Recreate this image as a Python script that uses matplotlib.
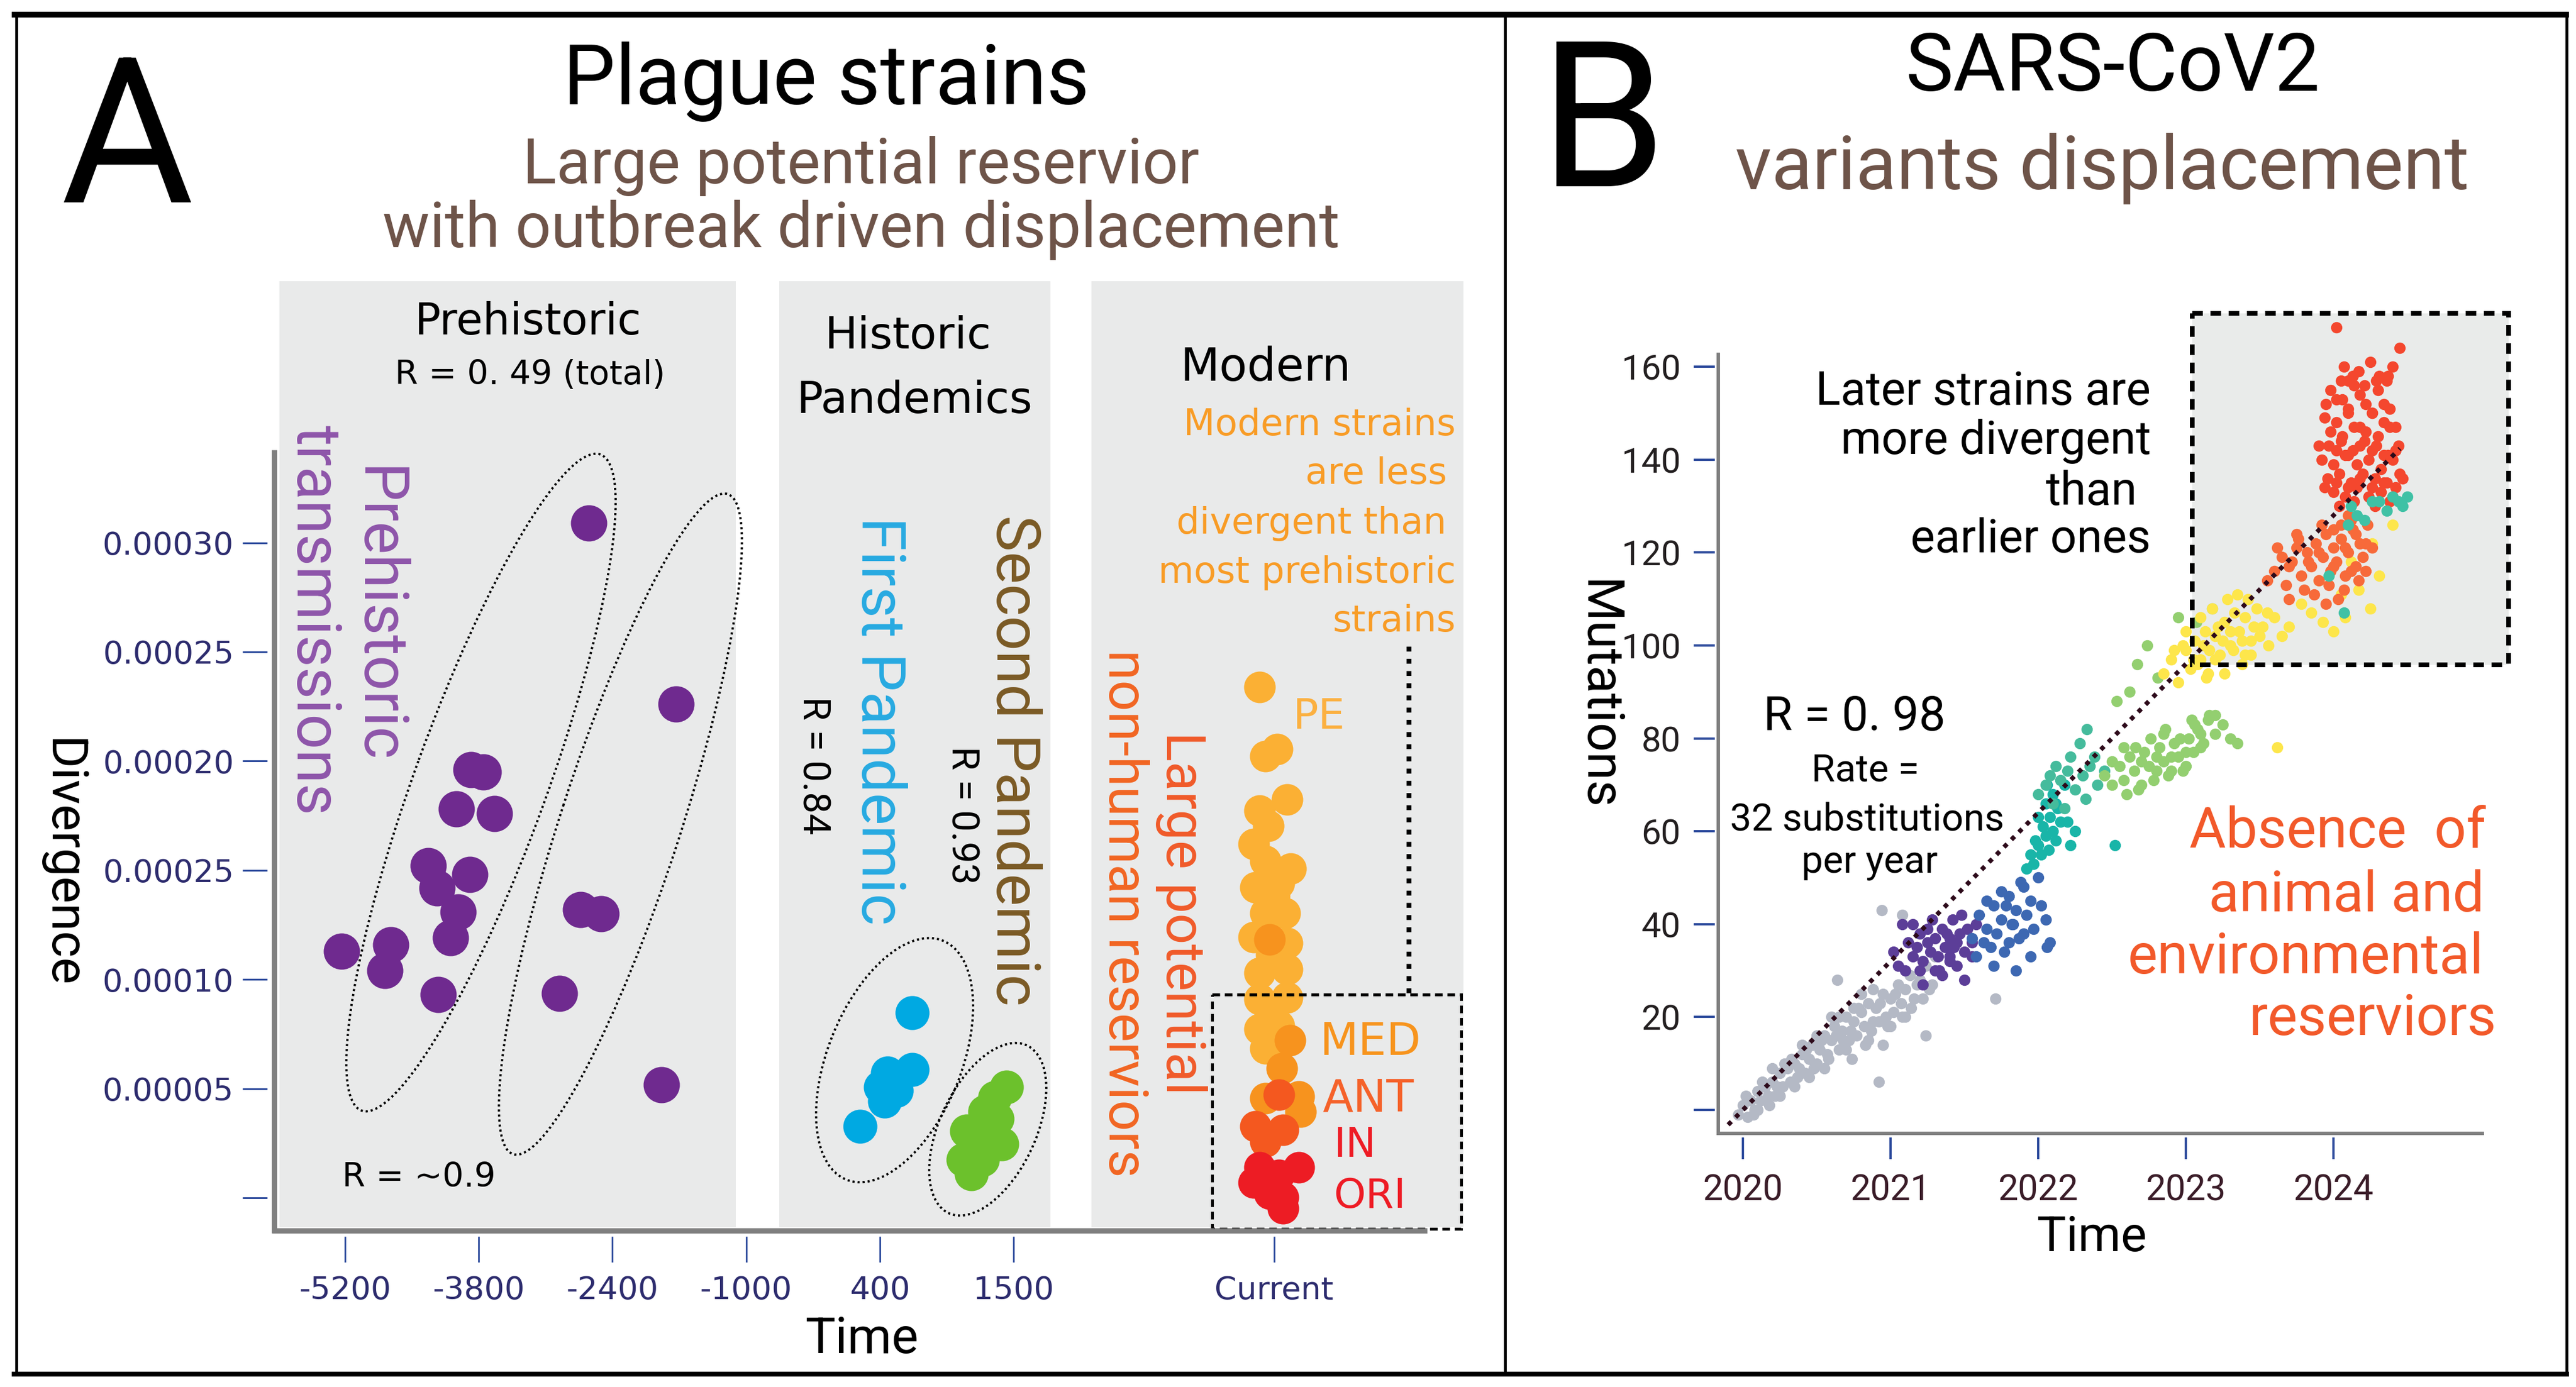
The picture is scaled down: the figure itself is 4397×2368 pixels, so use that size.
import numpy as np
import matplotlib
matplotlib.use('Agg')
import matplotlib.pyplot as plt
from matplotlib.patches import Rectangle, Ellipse
from matplotlib import font_manager

plt.rcParams['font.family'] = 'DejaVu Sans'
plt.rcParams['lines.scale_dashes'] = False

W, H = 4397, 2368
names = {f.name for f in font_manager.fontManager.ttflist}
NARROW = 'Roboto' if 'Roboto' in names else 'Liberation Sans'
WIDE = 'DejaVu Sans'
BROWN = '#6e5449'

# ---------------- panel A : plague strains ----------------
time_ticks = [-5200, -3800, -2400, -1000, 400, 1500, 2020]
time_labels = ['-5200', '-3800', '-2400', '-1000', '400', '1500', 'Current']
div_ticks = [0, 0.00005, 0.00010, 0.00015, 0.00020, 0.00025, 0.00030]
div_labels = ['', '0.00005', '0.00010', '0.00025', '0.00020', '0.00025', '0.00030']

prehistoric_year = [-2648, -1734, -3881, -3752, -4034, -3636, -4329, -3893, -4237, -4016,
                    -2734, -2519, -4721, -4096, -5237, -4783, -2955, -4225, -1887]
prehistoric_div = [0.000309, 0.000226, 0.000196, 0.000195, 0.000178, 0.000176, 0.000152,
                   0.000148, 0.000142, 0.000131, 0.000132, 0.000130, 0.000116, 0.000119,
                   0.000113, 0.000104, 0.0000936, 0.0000931, 0.0000518]

first_year = [666, 666, 464, 405, 536, 440, 193]
first_div = [0.0000848, 0.0000587, 0.0000571, 0.0000507, 0.0000491, 0.0000443, 0.0000327]

second_year = [1442, 1346, 1264, 1365, 1283, 1403, 1114, 1187, 1085, 1245, 1152]
second_div = [0.0000507, 0.0000459, 0.0000394, 0.0000362, 0.0000311, 0.0000247,
              0.0000306, 0.0000231, 0.0000174, 0.0000174, 0.0000110]

pe_year = [1991, 2002, 2026, 1991, 2046, 1979, 2002, 2053, 1983, 2029, 2002, 2041, 2046,
           1991, 2046, 1991, 2046, 1991, 2029, 2008, 2020, 2014, 2014, 2002, 1979]
pe_div = [23.39e-5, 20.23e-5, 20.55e-5, 17.73e-5, 18.24e-5, 16.20e-5, 15.42e-5, 15.08e-5,
          14.22e-5, 14.40e-5, 13.04e-5, 13.04e-5, 11.67e-5, 10.30e-5, 10.46e-5, 9.09e-5,
          9.17e-5, 7.73e-5, 7.89e-5, 17.03e-5, 13.81e-5, 11.13e-5, 8.45e-5, 6.84e-5, 11.94e-5]
med_year = [2011, 2052, 2035, 2002, 2069, 2073]
med_div = [11.83e-5, 7.22e-5, 5.93e-5, 4.56e-5, 4.64e-5, 3.94e-5]
ant_year = [2029, 1983, 2038, 2002]
ant_div = [4.72e-5, 3.27e-5, 3.11e-5, 2.58e-5]
ori_year = [1991, 2069, 2029, 1979, 2011, 2038, 2038]
ori_div = [1.39e-5, 1.39e-5, 1.05e-5, 0.70e-5, 0.19e-5, 0.03e-5, -0.48e-5]

# ---------------- panel B : SARS-CoV2 ----------------
year_ticks = [2020, 2021, 2022, 2023, 2024]
mut_ticks = [0, 20, 40, 60, 80, 100, 120, 140, 160]
mut_labels = ['', '20', '40', '60', '80', '100', '120', '140', '160']
fit_year = [2019.9, 2024.45]
fit_mut = [-3.2, 142.4]

gray_x = [2019.97, 2020.00, 2020.03, 2020.05, 2020.08, 2020.10, 2020.12, 2020.15, 2020.18, 2020.20,
          2020.22, 2020.25, 2020.27, 2020.30, 2020.32, 2020.35, 2020.37, 2020.40, 2020.42, 2020.45,
          2020.47, 2020.50, 2020.52, 2020.55, 2020.57, 2020.60, 2020.62, 2020.65, 2020.67, 2020.70,
          2020.72, 2020.75, 2020.77, 2020.80, 2020.82, 2020.85, 2020.87, 2020.90, 2020.92, 2020.95,
          2020.97, 2021.00, 2021.02, 2021.05, 2021.07, 2021.10, 2021.13, 2021.16, 2021.20, 2021.24,
          2021.28, 2021.33, 2020.10, 2020.25, 2020.40, 2020.55, 2020.70, 2020.85, 2021.00, 2020.64,
          2020.94, 2021.08, 2021.24, 2021.71, 2020.92, 2020.20, 2020.35, 2020.50, 2020.65, 2020.80,
          2020.95, 2021.10, 2020.45, 2020.75,
          2020.02, 2020.07, 2020.13, 2020.17, 2020.23, 2020.28, 2020.33, 2020.38, 2020.43, 2020.48,
          2020.53, 2020.58, 2020.63, 2020.68, 2020.73, 2020.78, 2020.83, 2020.88, 2020.93, 2020.98,
          2021.03, 2021.08, 2021.14, 2021.18, 2021.22, 2021.26, 2021.30, 2020.60, 2020.74, 2020.88]
gray_y = [-1, 1, -1.5, 2, 0, 4, 2, 5, 1, 6, 3, 8, 5, 9, 6, 10, 7, 12, 8, 11,
          14, 10, 13, 16, 12, 15, 18, 13, 17, 20, 15, 19, 16, 21, 18, 23, 17, 22, 19, 25,
          20, 24, 21, 27, 23, 26, 29, 24, 28, 31, 27, 30, 0, 3, 14, 9, 13, 15, 18, 28,
          43, 42, 16, 24, 6, 9, 5, 16, 20, 25, 14, 20, 7, 22,
          3, -1, 6, 3, 5, 10, 11, 9, 13, 9, 15, 11, 16, 15, 17, 22, 14, 19, 23, 18,
          25, 20, 22, 27, 24, 26, 33, 20, 11, 26]
purple_x = [2021.02, 2021.05, 2021.08, 2021.12, 2021.15, 2021.18, 2021.20, 2021.22, 2021.25, 2021.27,
            2021.30, 2021.32, 2021.35, 2021.37, 2021.40, 2021.42, 2021.45, 2021.47, 2021.50, 2021.52,
            2021.55, 2021.58, 2021.30, 2021.35, 2021.40, 2021.45, 2021.25, 2021.50, 2021.20, 2021.38,
            2021.28, 2021.43, 2021.15, 2021.22, 2021.33, 2021.48, 2021.55, 2021.40, 2021.10]
purple_y = [34, 31, 40, 36, 33, 35, 38, 32, 36, 34, 37, 33, 39, 35, 37, 41, 36, 38, 34, 39,
            36, 40, 30, 29, 33, 31, 39, 28, 30, 38, 41, 35, 40, 27, 30, 42, 33, 32, 30]
blue_x = [2021.55, 2021.58, 2021.60, 2021.63, 2021.65, 2021.68, 2021.70, 2021.72, 2021.75, 2021.77,
          2021.80, 2021.82, 2021.85, 2021.87, 2021.90, 2021.92, 2021.95, 2021.97, 2022.00, 2022.02,
          2022.05, 2022.08, 2021.70, 2021.75, 2021.80, 2021.85, 2021.90, 2021.95, 2021.65, 2021.88,
          2021.78, 2021.83, 2022.06]
blue_y = [37, 33, 42, 36, 39, 35, 44, 38, 41, 34, 46, 40, 43, 37, 48, 42, 45, 39, 50, 44,
          41, 36, 31, 47, 36, 30, 38, 33, 45, 49, 44, 40, 35]
teal_x = [2021.92, 2021.95, 2021.97, 2022.00, 2022.02, 2022.05, 2022.07, 2022.10, 2022.12, 2022.15,
          2021.98, 2022.03, 2022.08, 2022.13, 2022.00, 2022.05, 2022.10, 2022.20, 2022.25, 2022.18,
          2022.22, 2022.52, 2022.06, 2022.12]
teal_y = [52, 55, 53, 57, 55, 59, 56, 60, 58, 62, 58, 61, 63, 65, 63, 66, 68, 62, 60, 70,
          57, 57, 70, 66]
seagreen_x = [2022.00, 2022.05, 2022.10, 2022.15, 2022.20, 2022.25, 2022.30, 2022.35, 2022.40, 2022.45,
              2022.12, 2022.22, 2022.32, 2022.28, 2022.33, 2022.18, 2022.38, 2022.08]
seagreen_y = [68, 70, 66, 71, 73, 69, 72, 74, 70, 73, 74, 76, 67, 79, 82, 65, 76, 72]
green_x = [2022.45, 2022.50, 2022.55, 2022.58, 2022.62, 2022.65, 2022.68, 2022.72, 2022.75, 2022.78,
           2022.82, 2022.85, 2022.88, 2022.92, 2022.95, 2022.98, 2023.02, 2023.05, 2023.08, 2023.12,
           2023.15, 2023.20, 2023.25, 2023.30, 2022.60, 2022.70, 2022.80, 2022.90, 2023.00, 2023.10,
           2022.66, 2022.76, 2022.86, 2022.96, 2023.06, 2023.16, 2023.35, 2022.53, 2022.67, 2022.74,
           2022.81, 2022.95, 2023.07, 2023.18, 2022.62,
           2022.50, 2022.58, 2022.70, 2022.80, 2022.90, 2023.00, 2023.10, 2023.20, 2022.85, 2023.04]
green_y = [72, 70, 74, 71, 76, 73, 69, 77, 74, 71, 78, 75, 72, 79, 76, 73, 80, 77, 82, 79,
           84, 81, 83, 80, 68, 70, 73, 76, 74, 78, 78, 80, 82, 80, 83, 85, 79, 88, 96, 100,
           93, 106, 105, 108, 90,
           75, 78, 75, 76, 73, 77, 81, 85, 81, 84]
yellow_x = [2022.85, 2022.90, 2022.95, 2023.00, 2023.03, 2023.06, 2023.10, 2023.13, 2023.16, 2023.20,
            2023.23, 2023.26, 2023.30, 2023.33, 2023.36, 2023.40, 2023.44, 2023.48, 2023.52, 2023.56,
            2023.60, 2023.65, 2023.08, 2023.14, 2023.20, 2023.26, 2023.32, 2023.38, 2023.44, 2023.10,
            2023.18, 2023.28, 2023.35, 2023.42, 2022.98, 2023.70, 2023.78, 2023.85, 2023.93, 2024.00,
            2024.08, 2024.17, 2024.25, 2024.31, 2024.40, 2024.26, 2023.62, 2023.90, 2024.12, 2024.05,
            2022.92, 2023.05, 2023.12, 2023.22, 2023.30, 2023.38, 2023.46, 2023.55, 2023.00, 2023.15,
            2023.25, 2023.40, 2023.50]
yellow_y = [94, 97, 92, 99, 95, 101, 97, 103, 99, 102, 98, 105, 100, 107, 103, 106, 101, 108, 104, 100,
            106, 102, 96, 93, 97, 94, 99, 96, 98, 106, 108, 110, 111, 110, 100, 104, 109, 107, 105, 103,
            106, 112, 108, 115, 126, 122, 78, 114, 118, 111,
            99, 97, 100, 104, 103, 101, 104, 107, 103, 94, 101, 98, 102]
orange_x = [2023.55, 2023.60, 2023.65, 2023.68, 2023.72, 2023.75, 2023.78, 2023.82, 2023.85, 2023.88,
            2023.90, 2023.93, 2023.95, 2023.98, 2024.00, 2024.02, 2024.05, 2024.08, 2024.10, 2024.13,
            2024.15, 2024.18, 2024.20, 2024.23, 2024.26, 2023.80, 2023.87, 2023.92, 2023.97, 2024.03,
            2024.07, 2024.12, 2024.17, 2024.22, 2023.70, 2023.76, 2024.00, 2024.10, 2023.95, 2024.05,
            2023.62, 2023.70, 2023.83, 2023.90, 2024.00, 2024.08, 2024.15, 2024.22, 2023.75, 2024.12]
orange_y = [114, 116, 119, 113, 118, 121, 115, 120, 117, 122, 114, 119, 124, 116, 121, 118, 123, 115, 120, 125,
            117, 122, 119, 126, 121, 112, 111, 126, 113, 110, 112, 127, 114, 116, 110, 123, 125, 128, 109, 126,
            121, 117, 118, 120, 117, 121, 124, 122, 124, 116]
red_x = [2023.98, 2024.06, 2024.14, 2024.22, 2024.30, 2024.38,
         2024.02, 2024.10, 2024.18, 2024.26, 2024.34,
         2023.94, 2024.02, 2024.10, 2024.18, 2024.26, 2024.34, 2024.42,
         2023.98, 2024.06, 2024.14, 2024.22, 2024.30, 2024.38,
         2023.97, 2024.05, 2024.13, 2024.21, 2024.29, 2024.37, 2024.44,
         2023.92, 2024.00, 2024.08, 2024.16, 2024.24, 2024.32, 2024.40,
         2023.96, 2024.04, 2024.12, 2024.20, 2024.28, 2024.36, 2024.45,
         2024.00, 2024.08, 2024.16, 2024.24, 2024.32, 2024.40,
         2024.05, 2024.13, 2024.21, 2024.29, 2024.37,
         2024.02, 2024.10, 2024.18, 2024.26, 2024.34, 2024.42,
         2023.94, 2024.02, 2024.10, 2024.18, 2024.26, 2024.34, 2024.42,
         2024.04, 2024.14, 2024.28, 2024.38,
         2024.02, 2024.45, 2024.40, 2024.07, 2024.17, 2024.31, 2024.25, 2024.10, 2023.90, 2024.47,
         2024.36, 2023.95]
red_y = [155, 153, 156, 152, 155, 151,
         153, 151, 154, 150, 152,
         149, 148, 150, 147, 150, 148, 147,
         146, 145, 147, 146, 145, 147,
         143, 144, 142, 144, 143, 141, 143,
         140, 139, 141, 139, 140, 138, 140,
         136, 137, 135, 137, 136, 135, 137,
         133, 132, 134, 132, 133, 132,
         157, 158, 156, 157, 158,
         142, 141, 143, 142, 141, 142,
         134, 135, 134, 136, 134, 135, 134,
         130, 131, 130, 131,
         168.5, 164, 160, 160, 159, 158, 161, 157, 143, 136, 157, 152]
tail_x = [2024.10, 2024.12, 2024.16, 2024.21, 2024.26, 2024.31, 2024.36, 2024.40, 2024.44, 2024.47,
          2024.50, 2024.07, 2023.97]
tail_y = [126, 130, 128, 127, 131, 131, 129, 132, 131, 130, 132, 107, 115]


fig = plt.figure(figsize=(W / 100, H / 100), dpi=100)


def box(l, t, r, b):
    return [l / W, 1 - b / H, (r - l) / W, (b - t) / H]


back = fig.add_axes([0, 0, 1, 1], zorder=0)
front = fig.add_axes([0, 0, 1, 1], zorder=3)
for o in (back, front):
    o.set_xlim(0, W)
    o.set_ylim(H, 0)
    o.axis('off')


def put(x, y, s, size, family=NARROW, color='black', ha='center', va='baseline', rotation=0):
    front.text(x, y, s, fontsize=size, family=family, color=color, ha=ha, va=va,
               rotation=rotation)


# frame
for xs, ys, lw in [([20, 4385], [25, 25], 7), ([20, 4385], [2346, 2346], 6),
                   ([28, 28], [22, 2349], 3.5), ([2569, 2569], [22, 2349], 3.5),
                   ([4381, 4381], [22, 2349], 3.5)]:
    back.plot(xs, ys, color='black', lw=lw, solid_capstyle='butt')

# grey era panels and box of panel B
for l, r in [(477, 1256), (1330, 1793), (1863, 2498)]:
    back.add_patch(Rectangle((l, 480), r - l, 2095 - 480, color='#e9eaea', lw=0))
back.add_patch(Rectangle((3742, 535), 540, 600, color='#e9ebea', lw=0))

# ---------------- panel A axes ----------------
axA = fig.add_axes(box(456, 768, 2436, 2111), zorder=1)
axA.patch.set_visible(False)
scale_year = [-9000, -5200, -3800, -2400, -1000, 400, 1500, 2020, 3000]
scale_pos = [-2.714, 0, 1, 2, 3, 4, 5, 6.95, 10.625]
axA.set_xscale('function', functions=(lambda v: np.interp(v, scale_year, scale_pos),
                                      lambda v: np.interp(v, scale_pos, scale_year)))
axA.set_xlim(-6016, 2325)
axA.set_ylim(-1.770e-5, 3.4254e-4)
for sp in axA.spines.values():
    sp.set_visible(False)
axA.set_xticks(time_ticks, time_labels)
axA.set_yticks(div_ticks, div_labels)
axA.tick_params(axis='y', length=30, width=2.2, color='#2c4a9c', pad=11, labelsize=39,
                labelcolor='#2d2c6e')
axA.tick_params(axis='x', length=31.5, width=2, color='#2c4a9c', pad=16, labelsize=39,
                labelcolor='#2d2c6e')

axA.scatter(prehistoric_year, prehistoric_div, s=1990, color='#6f2a8f', lw=0, clip_on=False)
axA.scatter(first_year, first_div, s=1750, color='#00a9e2', lw=0, clip_on=False)
axA.scatter(second_year, second_div, s=1750, color='#6cc12c', lw=0, clip_on=False)
for xs, ys, c in [(pe_year, pe_div, '#fbb034'), (med_year, med_div, '#f7931e'),
                  (ant_year, ant_div, '#f4581f'), (ori_year, ori_div, '#ed1c24')]:
    axA.scatter(xs, ys, s=1510, color=c, lw=0, clip_on=False)

# ---------------- panel B axes ----------------
axB = fig.add_axes(box(2927, 602, 4240, 1942), zorder=1)
axB.patch.set_visible(False)
axB.set_xlim(2019.8095, 2025.0198)
axB.set_ylim(-5.93, 163.05)
for sp in axB.spines.values():
    sp.set_visible(False)
axB.set_xticks(year_ticks, [str(y) for y in year_ticks])
axB.set_yticks(mut_ticks, mut_labels)
axB.tick_params(axis='y', length=26, width=2.8, color='#2c4a9c', pad=16, labelsize=43,
                labelcolor='#231f20')
axB.tick_params(axis='x', length=26.5, width=2.8, color='#2c4a9c', pad=18, labelsize=44,
                labelcolor='#3a1c28')
for t in axB.get_xticklabels() + axB.get_yticklabels():
    t.set_fontfamily(NARROW)

groups = [(gray_x, gray_y, '#b4b9c5'), (purple_x, purple_y, '#5c3e98'),
          (blue_x, blue_y, '#3d68b2'), (teal_x, teal_y, '#19b5a8'),
          (seagreen_x, seagreen_y, '#45bb9c'), (green_x, green_y, '#93cf70'),
          (yellow_x, yellow_y, '#fde64b'), (orange_x, orange_y, '#f76a3a'),
          (red_x, red_y, '#f4472e'), (tail_x, tail_y, '#3fc1a5')]
for xs, ys, c in groups:
    axB.scatter(xs, ys, s=195, color=c, lw=0, clip_on=False)
axB.plot(fit_year, fit_mut, color='#2d0a1a', lw=5.5, ls=(0, (5.5, 7.5)), zorder=5,
         clip_on=False)

# ---------------- axis lines and outlines ----------------
front.plot([468, 468], [768, 2105], color='#7f7f7f', lw=6.5, solid_capstyle='butt')
front.plot([464, 2436], [2101, 2101], color='#7f7f7f', lw=6.5, solid_capstyle='butt')
front.plot([2933, 2933], [602, 1938], color='#808080', lw=4.3, solid_capstyle='butt')
front.plot([2930, 4240], [1935, 1935], color='#808080', lw=4.3, solid_capstyle='butt')

dots = (0, (2.6, 3.6))
for (cx, cy), w, h, ang in [((821, 1336), 1192, 226, -70), ((1059, 1407), 1185, 205, -72),
                            ((1527, 1810), 440, 228, -68), ((1686, 1928), 316, 164, -65)]:
    front.add_patch(Ellipse((cx, cy), w, h, angle=ang, fill=False, ec='black', lw=2.8, ls=dots))

front.add_patch(Rectangle((2069, 1698), 425, 400, fill=False, ec='black', lw=3.6,
                          ls=(0, (9.4, 5.8))))
front.plot([2405, 2405], [1104, 1698], color='black', lw=6, ls=(0, (6, 9)))
front.add_patch(Rectangle((3742, 535), 540, 600, fill=False, ec='black', lw=5.8,
                          ls=(0, (13, 9.4))))

# ---------------- texts ----------------
put(103, 347, 'A', 250, ha='left')
put(2627, 318, 'B', 250, ha='left')
put(1410, 178, 'Plague strains', 102)
put(1470, 313, 'Large potential reservior', 77, color=BROWN)
put(1470, 422, 'with outbreak driven displacement', 77, color=BROWN)
put(3607, 155, 'SARS-CoV2', 99)
put(3588, 323, 'variants displacement', 92, color=BROWN)

put(901, 571, 'Prehistoric', 53, WIDE)
put(905, 656, 'R = 0. 49 (total)', 41, WIDE)
put(1550, 595, 'Historic', 54, WIDE)
put(1561, 705, 'Pandemics', 54, WIDE)
put(2160, 650, 'Modern', 56, WIDE)
ORANGE = '#f89c26'
for s, x, y in [('Modern strains', 2485, 743), ('are less', 2470, 826),
                ('divergent than', 2469, 911), ('most prehistoric', 2485, 995),
                ('strains', 2485, 1078)]:
    put(x, y, s, 45, WIDE, color=ORANGE, ha='right')

put(642, 1050, 'Prehistoric', 76, color='#8e55aa', va='center', rotation=-90)
put(535, 1059, 'transmissions', 76, color='#8e55aa', va='center', rotation=-90)
put(1500, 1231, 'First Pandemic', 75, color='#27aae1', va='center', rotation=-90)
put(1389, 1307, 'R = 0.84', 47, va='center', rotation=-90)
put(1730, 1298, 'Second Pandemic', 75, color='#7b5a25', va='center', rotation=-90)
put(1642, 1392, 'R = 0.93', 47, va='center', rotation=-90)
put(2017, 1559, 'Large potential', 67, color='#f15a29', va='center', rotation=-90)
put(1919, 1559, 'non-human reserviors', 67, color='#f26522', va='center', rotation=-90)
put(104, 1474, 'Divergence', 62, va='center', rotation=-90)
put(1472, 2310, 'Time', 62)
put(584, 2026, 'R = ~0.9', 41, WIDE, ha='left')

put(2207, 1244, 'PE', 52, WIDE, color='#fbb040', ha='left')
put(2253, 1801, 'MED', 55, WIDE, color='#f7941d', ha='left')
put(2257, 1898, 'ANT', 55, WIDE, color='#f5622a', ha='left')
put(2276, 1975, 'IN', 50, WIDE, color='#ee1c25', ha='left')
put(2276, 2062, 'ORI', 50, WIDE, color='#ee1c25', ha='left')

put(2727, 1187, 'Mutations', 63, va='center', rotation=-90)
put(3571, 2136, 'Time', 60)
for s, x, y in [('Later strains are', 3671, 691), ('more divergent', 3671, 775),
                ('than', 3648, 862), ('earlier ones', 3671, 943)]:
    put(x, y, s, 57, ha='right')
put(3165, 1247, 'R = 0. 98', 58)
put(3184, 1333, 'Rate =', 47)
put(3187, 1418, '32 substitutions', 47)
put(3191, 1490, 'per year', 47)
for s, x, y in [('Absence  of', 4243, 1447), ('animal and', 4240, 1556),
                ('environmental', 4240, 1662), ('reserviors', 4261, 1767)]:
    put(x, y, s, 69, color='#f2592a', ha='right')

fig.savefig('out.png', dpi=100)
